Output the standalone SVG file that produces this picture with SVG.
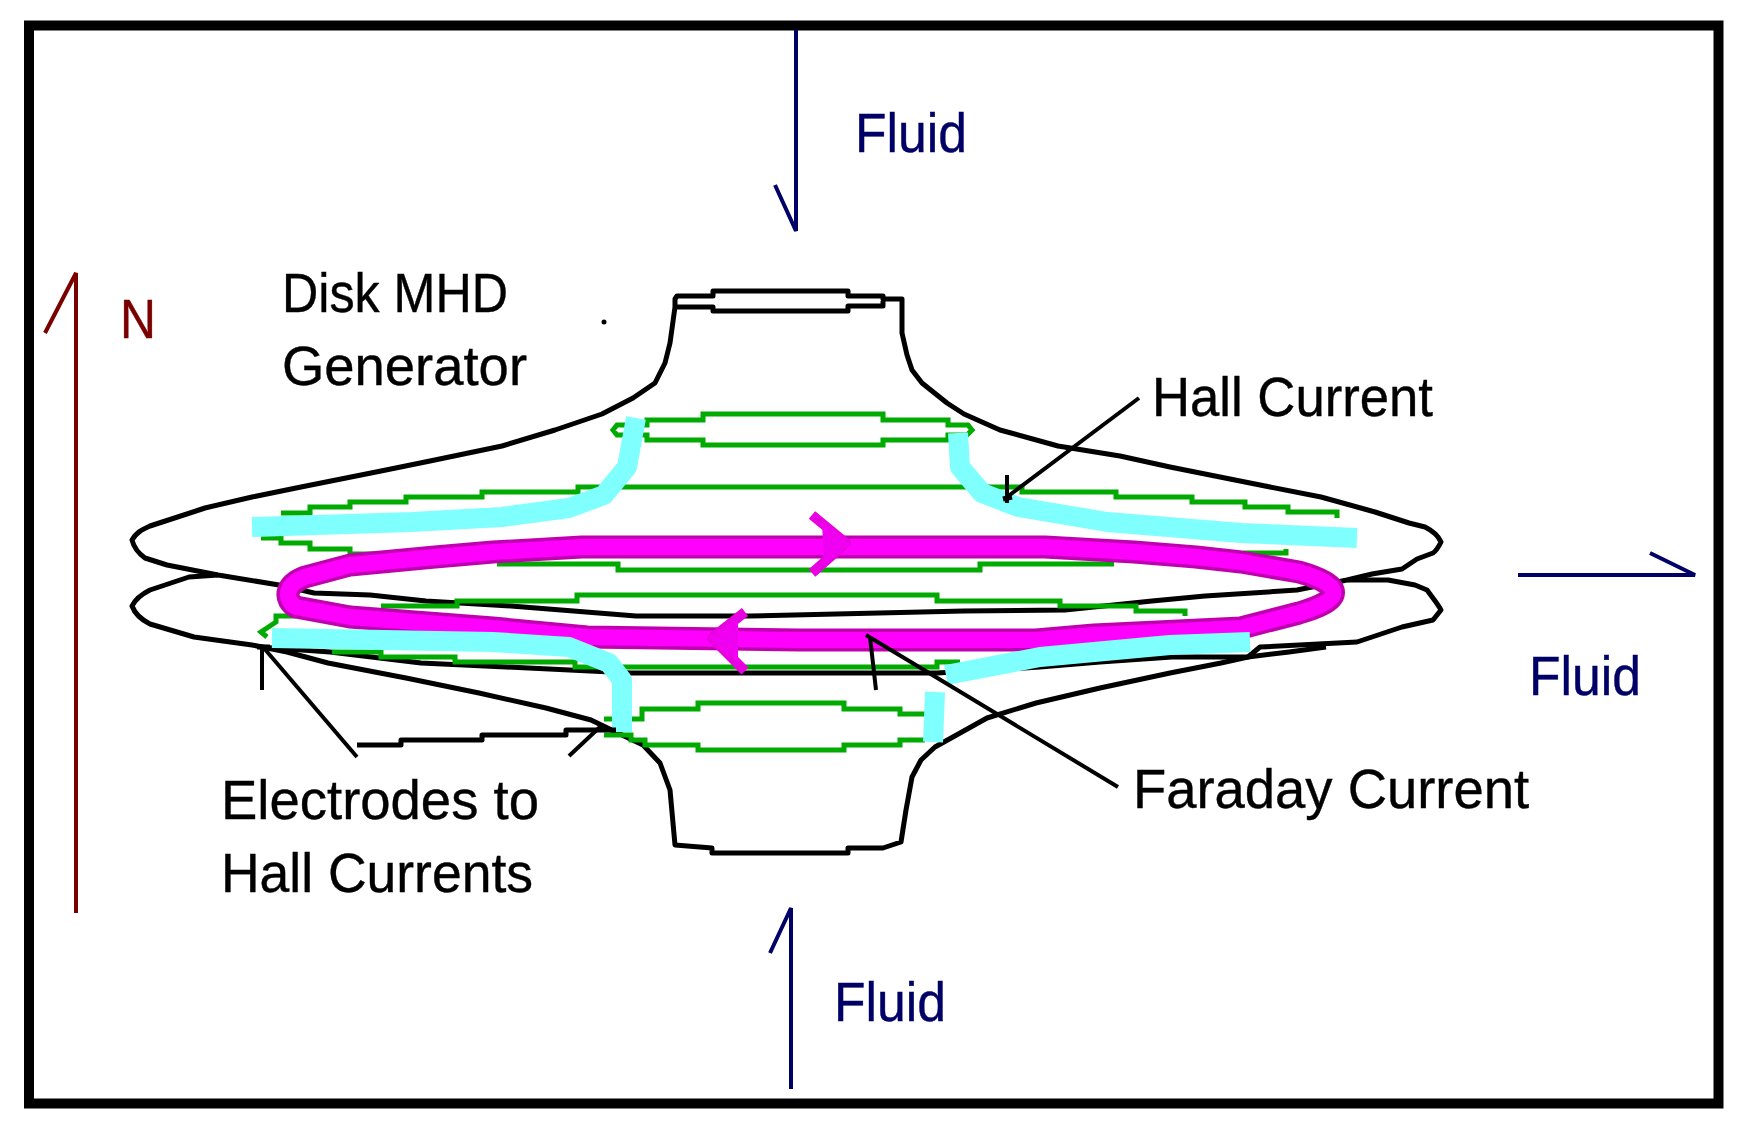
<svg xmlns="http://www.w3.org/2000/svg" width="1745" height="1129" viewBox="0 0 1745 1129">
<style>
.b{fill:none;stroke:#000;stroke-width:5;stroke-linejoin:round}
.t{fill:none;stroke:#000;stroke-width:4;stroke-linejoin:round}
.g{fill:none;stroke:#00aa00;stroke-width:5}
.c{fill:none;stroke:#80ffff;stroke-width:20;stroke-linejoin:round}
.m0{fill:none;stroke:#c000b0;stroke-width:23;stroke-linejoin:round}
.m1{fill:none;stroke:#ff00ff;stroke-width:16;stroke-linejoin:round}
.mh{fill:none;stroke:#e800e0;stroke-width:10;stroke-linejoin:round}
.mf{fill:#f000f0;stroke:none}
.n{fill:none;stroke:#000066;stroke-width:4}
.r{fill:none;stroke:#7a0000;stroke-width:4}
text{font-family:"Liberation Sans",Arial,sans-serif;font-size:56px;fill:#000;stroke:#000;stroke-width:.4}
.tn{fill:#000066;stroke:#000066}
.tr{fill:#7a0000;stroke:#7a0000}
</style>
<rect width="1745" height="1129" fill="#fff"/>
<g id="frame"><rect x="29" y="25.5" width="1689.5" height="1078" fill="none" stroke="#000" stroke-width="10"/></g>

<g id="generator-body">
<path class="b" d="M132 540C136 533 141 530 150 526L205 508L252 497L301 487L381 471L430 461L502 446L555 430L602 414L633 398L655 383L665 363L670 343L675 307V299L677 296H713V291H848V296H883V299H902V333L907 355L912 370L922 383L947 403L964 414L1000 430L1058 446L1120 456L1170 467L1245 482L1321 497L1375 512L1409 523L1425 527C1433 531 1438 535 1441 542C1438 548 1436 551 1433 553L1417 559L1402 569L1372 574L1347 580L1297 590L1205 596L1152 601L1065 610L964 611L750 616H636L511 606L426 601L370 595L314 593L279 585L218 575L167 565L145 558C138 553 134 548 132 540Z"/>
<path class="b" d="M675 307H713V311H848V306H883V301"/>
<path class="b" d="M218 575L189 577L150 590C140 595 135 600 132 606C135 614 140 619 150 624L194 637L252 645L287 652L328 663L406 678L479 693L546 708L591 720L622 735L643 745L660 763L670 790L675 845L712 848V853H848V848H883L901 842L906 810L912 777L921 760L935 747L987 718L1036 703L1100 688L1170 673L1221 663L1248 657L1260 647L1357 642L1402 627L1433 620L1441 610C1438 604 1432 597 1427 590L1415 585L1388 580L1348 580"/>
<path class="b" d="M260 647L330 652L421 663L506 667L631 673H937L1040 667L1100 662L1172 657H1248L1289 652L1326 647"/>
<circle cx="604" cy="322" r="2.5" fill="#000"/>
</g>

<g id="green-windings">
<path class="g" d="M617 425H647V420H703V414H883V420H948V425H968L972 430L967 435H948V440H883V445H703V440H647V435H617L613 430Z"/>
<path class="g" d="M281 513H310V507H350V502H406V497H482V492H578V487H1022V492H1116V497H1192V502H1245V507H1288V512H1337V518"/>
<path class="g" d="M261 538H281V543H310V549H350V554H386"/>
<path class="g" d="M497 564H618V570H980V564H1114"/>
<path class="g" d="M1243 553H1286V549"/>
<path class="g" d="M381 606H457V601H577V595H937V601H1060V606H1136V611H1185V616"/>
<path class="g" d="M296 616H276V622L261 632L267 637"/>
<path class="g" d="M332 652H381V657H455V662H575V667H937V662H960"/>
<path class="g" d="M604 719H642V709H698V703H844V709H900V714H925"/>
<path class="g" d="M604 735H631V740H645V745H698V750H844V745H900V740H925"/>
<path class="g" d="M1254 632V629"/>
</g>

<g id="faraday-loop">
<path class="m0" d="M582 547L493 552L435 557L350 565L305 577C284 585 284 600 296 607L350 617L493 628L587 637L800 640H1036L1094 635L1241 628L1299 613C1345 600 1345 585 1299 572L1241 562L1196 557L1134 552L1045 547Z"/>
<path class="m1" d="M582 547L493 552L435 557L350 565L305 577C284 585 284 600 296 607L350 617L493 628L587 637L800 640H1036L1094 635L1241 628L1299 613C1345 600 1345 585 1299 572L1241 562L1196 557L1134 552L1045 547Z"/>
<path class="mh" d="M812 515L846 543L812 573"/>
<polygon class="mf" points="850,544 822,522 824,566"/>
<path class="mh" d="M745 612L712 638L745 671"/>
<polygon class="mf" points="708,638 738,618 738,662"/>
</g>

<g id="hall-current-bands">
<path class="c" d="M252 527L412 522L502 517L569 508L604 495L627 467L636 418"/>
<path class="c" d="M958 433L960 467L982 493L1018 507L1107 522L1241 533L1357 538"/>
<path class="c" d="M272 638L493 642L569 647L609 663L622 680V732"/>
<path class="c" d="M933 742L935 692"/>
<path class="c" d="M946 675L1040 657L1170 645L1250 642"/>
</g>

<g id="connectors">
<path class="t" d="M1139 398L1007 497"/>
<path class="t" d="M1007 475V503"/>
<path class="b" d="M1003 499L1012 497"/>
<path class="t" d="M866 635L1118 787"/>
<path class="t" d="M870 637L876 690"/>
<path class="t" d="M263 647L357 757"/>
<path class="t" d="M262 645V690"/>
<path class="b" d="M257 647H270"/>
<path class="b" d="M357 745H401V740H482V735H566V730H616"/>
<path class="t" d="M569 756L601 726"/>
<path class="r" d="M76 913V273L45 333"/>
<path class="n" d="M796 30V231L775 185"/>
<path class="n" d="M1518 575H1695L1650 553"/>
<path class="n" d="M791 1089V908L770 953"/>
</g>

<g id="label-disk"><text x="282" y="312" textLength="226" lengthAdjust="spacingAndGlyphs">Disk MHD</text><text x="282" y="385" textLength="245" lengthAdjust="spacingAndGlyphs">Generator</text></g>
<g id="label-n"><text class="tr" x="120" y="338" textLength="36" lengthAdjust="spacingAndGlyphs">N</text></g>
<g id="label-hall"><text x="1152" y="416" textLength="281" lengthAdjust="spacingAndGlyphs">Hall Current</text></g>
<g id="label-faraday"><text x="1133" y="808" textLength="396" lengthAdjust="spacingAndGlyphs">Faraday Current</text></g>
<g id="label-electrodes"><text x="221" y="819" textLength="318" lengthAdjust="spacingAndGlyphs">Electrodes to</text><text x="221" y="892" textLength="312" lengthAdjust="spacingAndGlyphs">Hall Currents</text></g>
<g id="label-fluid-top"><text class="tn" x="855" y="152" textLength="112" lengthAdjust="spacingAndGlyphs">Fluid</text></g>
<g id="label-fluid-right"><text class="tn" x="1529" y="695" textLength="112" lengthAdjust="spacingAndGlyphs">Fluid</text></g>
<g id="label-fluid-bottom"><text class="tn" x="834" y="1021" textLength="112" lengthAdjust="spacingAndGlyphs">Fluid</text></g>
</svg>
